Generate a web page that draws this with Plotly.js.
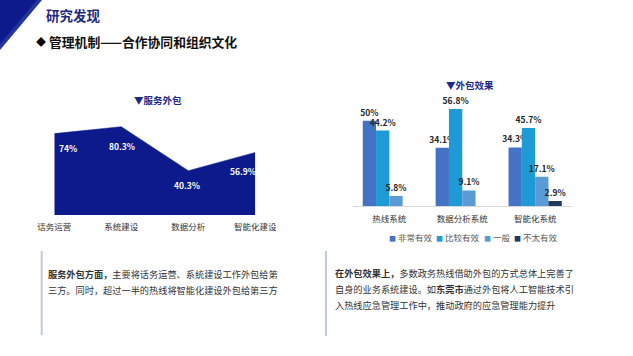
<!DOCTYPE html>
<html><head><meta charset="utf-8">
<script src="https://cdn.plot.ly/plotly-3.0.1.min.js"></script>
<style>html,body{margin:0;padding:0;background:#fff}#chart{width:633px;height:356px}</style>
</head><body><div id="chart"></div>
<script>
// ---- data ----
const areaCategories = ['话务运营', '系统建设', '数据分析', '智能化建设'];
const areaValues = [74, 80.3, 40.3, 56.9];
const areaTitle = '▼服务外包';

const barCategories = ['热线系统', '数据分析系统', '智能化系统'];
const seriesNames = ['非常有效', '比较有效', '一般', '不太有效'];
const veryEffective = [50, 34.1, 34.3];
const fairlyEffective = [44.2, 56.8, 45.7];
const average = [5.8, 9.1, 17.1];
const notEffective = [null, null, 2.9];
const barTitle = '▼外包效果';

const pageTitle = '研究发现';
const sectionTitle = '管理机制——合作协同和组织文化';
const leftText = ['<b>服务外包方面，</b>主要将话务运营、系统建设工作外包给第', '三方。同时，超过一半的热线将智能化建设外包给第三方'];
const rightText = ['<b>在外包效果上，</b>多数政务热线借助外包的方式总体上完善了', '自身的业务系统建设。如<b>东莞市</b>通过外包将人工智能技术引', '入热线应急管理工作中，推动政府的应急管理能力提升'];

// ---- styles ----
const W = 633, H = 356;
const FONT = '"Noto Sans CJK SC", "Noto Sans", sans-serif';
const navy = '#0c1a8c';
const barColors = ['#4472c4', '#1e9ad6', '#5b9bd5', '#1f3864'];
const px = (x) => x / W;
const py = (y) => 1 - y / H;

const seriesValues = [veryEffective, fairlyEffective, average, notEffective];

const traces = [{
  type: 'scatter', mode: 'lines', x: areaCategories, y: areaValues,
  fill: 'tozeroy', fillcolor: navy, line: {color: navy, width: 0.5},
  xaxis: 'x', yaxis: 'y', hoverinfo: 'skip', showlegend: false
}];
seriesValues.forEach((vals, i) => {
  traces.push({
    type: 'bar', x: barCategories, y: vals, name: seriesNames[i],
    marker: {color: barColors[i]}, xaxis: 'x2', yaxis: 'y2',
    texttemplate: '<b>%{y}%</b>', textposition: 'outside', cliponaxis: false,
    constraintext: 'none',
    textfont: {family: FONT, size: 8.5, color: '#262626'}, showlegend: false
  });
});

const annotations = [];
function note(o) {
  annotations.push(Object.assign({xref: 'paper', yref: 'paper', showarrow: false, xanchor: 'center', yanchor: 'middle'}, o));
}
// area labels
const areaXShift = [14, 1, -1, -12];
const areaYShift = [-14, -19, -14, -19];
areaValues.forEach((v, i) => {
  note({xref: 'x', yref: 'y', x: areaCategories[i], y: v, text: '<b>' + v + '%</b>',
    xshift: areaXShift[i], yshift: areaYShift[i],
    font: {family: FONT, size: 8.5, color: '#ffffff'}});
});
// chart titles
note({x: px(158), y: py(100), text: '<b>' + areaTitle + '</b>', font: {family: FONT, size: 9.5, color: '#1a2a8a'}});
note({x: px(470), y: py(85), text: '<b>' + barTitle + '</b>', font: {family: FONT, size: 9.5, color: '#1a2a8a'}});
// page titles
note({x: px(44), y: py(15), xanchor: 'left', text: '<b>' + pageTitle + '</b>', font: {family: FONT, size: 13.5, color: '#1f2a80'}});
note({x: px(34), y: py(41), xanchor: 'left', text: '◆', font: {family: FONT, size: 10, color: '#000'}});
note({x: px(47), y: py(41), xanchor: 'left', text: '<b>' + sectionTitle + '</b>', font: {family: FONT, size: 12.8, color: '#111'}});
// legend
const legendX = [387, 434, 482, 512];
seriesNames.forEach((n, i) => {
  note({x: px(legendX[i]), y: py(237), xanchor: 'left',
    text: '<span style="color:' + barColors[i] + ';font-size:7px">■</span> ' + n,
    font: {family: FONT, size: 8.5, color: '#595959'}});
});
// paragraphs
const leftY = [273.5, 290];
leftText.forEach((t, i) => {
  note({x: px(46), y: py(leftY[i]), xanchor: 'left', text: t, font: {family: FONT, size: 9.2, color: '#333'}});
});
const rightY = [272.5, 289, 305];
rightText.forEach((t, i) => {
  note({x: px(333), y: py(rightY[i]), xanchor: 'left', text: t, font: {family: FONT, size: 9.2, color: '#333'}});
});

const shapes = [
  {type: 'path', xref: 'paper', yref: 'paper',
   path: `M 0,1 L ${px(42)},1 L 0,${py(50)} Z`, fillcolor: '#24349c', line: {width: 0}},
  {type: 'path', xref: 'paper', yref: 'paper',
   path: `M 0,1 L ${px(37)},1 L 0,${py(44)} Z`, fillcolor: '#0c1a8c', line: {width: 0}},
  {type: 'line', xref: 'paper', yref: 'paper', x0: px(41.7), x1: px(41.7), y0: py(251), y1: py(335),
   line: {color: '#c5cadf', width: 2}},
  {type: 'line', xref: 'paper', yref: 'paper', x0: px(326), x1: px(326), y0: py(251), y1: py(336),
   line: {color: '#c5cadf', width: 2}}
];

const layout = {
  width: W, height: H, autosize: false,
  margin: {l: 0, r: 0, t: 0, b: 0},
  paper_bgcolor: '#fff', plot_bgcolor: 'rgba(0,0,0,0)',
  font: {family: FONT},
  barmode: 'group', bargap: 0.27, bargroupgap: 0,
  xaxis: {domain: [px(54.3), px(255.3)], type: 'category', range: [0, 3], anchor: 'y',
    showgrid: false, zeroline: false, showline: false, ticks: '', fixedrange: true, ticklabelstandoff: 5,
    tickfont: {family: FONT, size: 8.5, color: '#333'}},
  yaxis: {domain: [py(215), py(105)], range: [0, 100], visible: false, anchor: 'x', fixedrange: true},
  xaxis2: {domain: [px(352.9), px(571.6)], type: 'category', range: [-0.5, 2.5], anchor: 'y2',
    showgrid: false, zeroline: false, showline: true, linecolor: '#d9d9d9', linewidth: 1, ticks: '', fixedrange: true,
    ticklabelstandoff: 5,
    tickfont: {family: FONT, size: 8.5, color: '#333'}},
  yaxis2: {domain: [py(206), py(103.6)], range: [0, 60], visible: false, anchor: 'x2', fixedrange: true},
  annotations, shapes, showlegend: false
};

Plotly.newPlot('chart', traces, layout, {displayModeBar: false, staticPlot: true});
</script></body></html>
